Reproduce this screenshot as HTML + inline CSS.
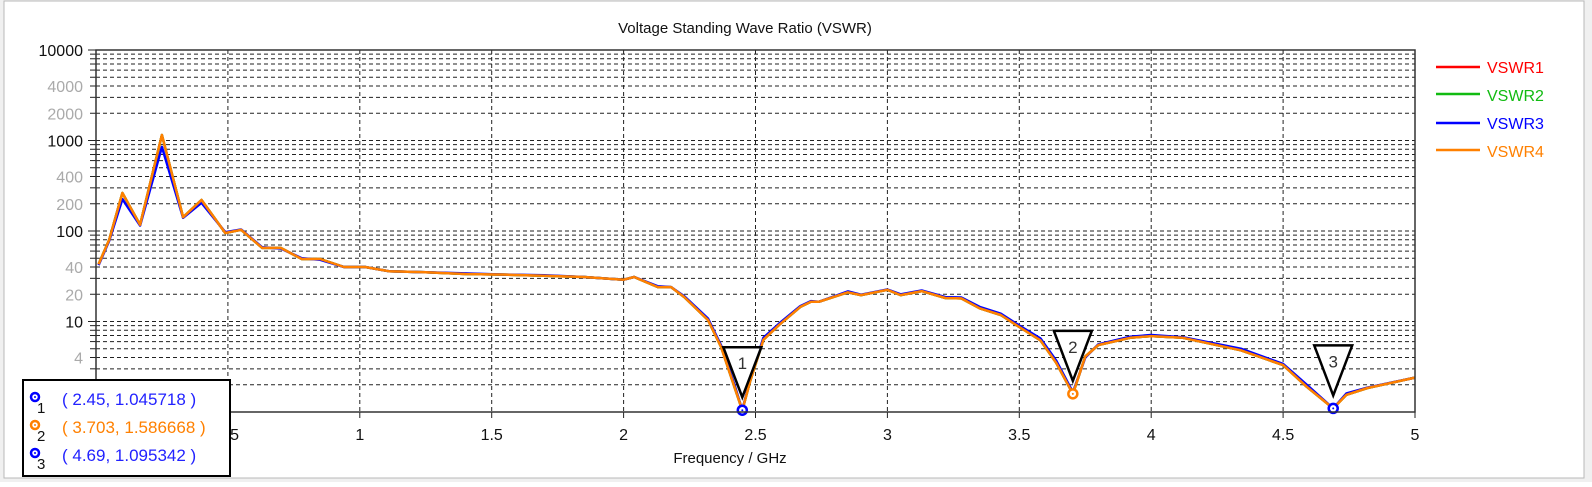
<!DOCTYPE html>
<html><head><meta charset="utf-8"><style>
html,body{margin:0;padding:0;background:#fff;}
body{width:1592px;height:482px;overflow:hidden;font-family:"Liberation Sans",sans-serif;}
</style></head><body>
<svg id="chart" width="1592" height="482" xmlns="http://www.w3.org/2000/svg" font-family="Liberation Sans, sans-serif">
<rect x="0" y="0" width="1592" height="482" fill="#f0f0f0"/>
<rect x="4" y="1" width="1580" height="477" fill="#fff" stroke="#b8b8b8"/>
<text x="745" y="33" font-size="15" text-anchor="middle" fill="#111">Voltage Standing Wave Ratio (VSWR)</text>
<g id="grid"></g>
<g id="series"></g>
<g id="markers"></g>
<rect x="96" y="50" width="1319" height="362" fill="none" stroke="#333" stroke-width="1.5"/>
<text x="730" y="463" font-size="15" text-anchor="middle" fill="#111">Frequency / GHz</text>
<g>
 <line x1="1436" y1="67" x2="1480" y2="67" stroke="#ff0000" stroke-width="2.5"/>
 <text x="1487" y="73" font-size="16" fill="#ff0000">VSWR1</text>
 <line x1="1436" y1="94" x2="1480" y2="94" stroke="#11bb11" stroke-width="2.5"/>
 <text x="1487" y="101" font-size="16" fill="#11bb11">VSWR2</text>
 <line x1="1436" y1="123" x2="1480" y2="123" stroke="#0000ff" stroke-width="2.5"/>
 <text x="1487" y="129" font-size="16" fill="#0000ff">VSWR3</text>
 <line x1="1436" y1="150" x2="1480" y2="150" stroke="#ff8000" stroke-width="2.5"/>
 <text x="1487" y="157" font-size="16" fill="#ff8000">VSWR4</text>
</g>
<g>
 <rect x="23" y="380" width="207" height="96" fill="#fff" stroke="#000" stroke-width="2"/>
 <circle cx="35" cy="397" r="4" fill="none" stroke="#0000ff" stroke-width="2.5"/><circle cx="35" cy="397" r="1" fill="#0000ff"/>
 <text x="37" y="413" font-size="15" fill="#111">1</text>
 <text x="62" y="405" font-size="17" fill="#2222ff">( 2.45, 1.045718 )</text>
 <circle cx="35" cy="425" r="4" fill="none" stroke="#ff8000" stroke-width="2.5"/><circle cx="35" cy="425" r="1" fill="#ff8000"/>
 <text x="37" y="441" font-size="15" fill="#111">2</text>
 <text x="62" y="433" font-size="17" fill="#ff8000">( 3.703, 1.586668 )</text>
 <circle cx="35" cy="453" r="4" fill="none" stroke="#0000ff" stroke-width="2.5"/><circle cx="35" cy="453" r="1" fill="#0000ff"/>
 <text x="37" y="469" font-size="15" fill="#111">3</text>
 <text x="62" y="461" font-size="17" fill="#2222ff">( 4.69, 1.095342 )</text>
</g>
</svg>
<script>
const freqs = [0.01,0.05,0.10,0.167,0.25,0.33,0.40,0.49,0.55,0.63,0.70,0.78,0.85,0.94,1.02,1.11,1.25,1.4,1.55,1.7,1.85,2.0,2.04,2.13,2.18,2.23,2.32,2.37,2.42,2.45,2.48,2.53,2.59,2.67,2.71,2.74,2.85,2.9,3.0,3.05,3.13,3.22,3.28,3.35,3.43,3.5,3.58,3.64,3.703,3.75,3.8,3.92,4.0,4.12,4.34,4.5,4.59,4.69,4.74,4.82,5.0];
const vswr4 = [43,80,263,117,1150,142,220,95,103,65,65,49,49,40,40,36,35,33.5,33,32,31,29,31,24,24,18.6,10.4,5.2,1.9,1.046,2.2,6.3,9.2,14.5,16.5,16.5,21,19.6,22.4,19.6,21.7,18.2,18,14,11.8,8.7,6.2,3.5,1.587,4.1,5.5,6.6,6.9,6.6,4.8,3.3,1.9,1.095,1.55,1.84,2.4];
const vswr3 = [42,78,225,115,850,140,205,97,104,66,64,50,48,40,40,36,35,34,33,32.5,31,29,31,24.5,24,19,10.8,5.4,2.0,1.046,2.3,6.6,9.5,14.8,16.8,16.5,21.5,19.8,22.6,20,22,18.6,18.4,14.5,12.2,9.0,6.5,3.7,1.65,4.0,5.6,6.8,7.1,6.7,5.0,3.4,2.0,1.095,1.6,1.86,2.4];
const vswr1 = vswr4;
const vswr2 = vswr4;
const yMajor = [1,10,100,1000,10000];
const yMajorLabels = ["","10","100","1000","10000"];
const yMinorLabeled = [2,4,20,40,200,400,2000,4000];
const xTicks = [0.5,1,1.5,2,2.5,3,3.5,4,4.5,5];
const xTickLabels = ["0.5","1","1.5","2","2.5","3","3.5","4","4.5","5"];
const markerF = [2.45,3.703,4.69];
const markerV = [1.045718,1.586668,1.095342];
const markerColors = ["#0000ff","#ff8000","#0000ff"];

const NS="http://www.w3.org/2000/svg";
const X0=96,X1=1415,Y0=412,Y1=50;
function xs(f){return X0+(f-0)/(5-0)*(X1-X0);}
function ys(v){return Y0-(Math.log10(v)-0)/(4-0)*(Y0-Y1);}
function mk(tag,attrs,parent){const e=document.createElementNS(NS,tag);for(const k in attrs)e.setAttribute(k,attrs[k]);parent.appendChild(e);return e;}
const grid=document.getElementById('grid');
for(let d=0;d<4;d++){for(let m=1;m<10;m++){const v=Math.pow(10,d)*m;if(v===1)continue;const y=ys(v);
 const l=mk('line',{x1:X0,x2:X1,y1:y,y2:y,stroke:'#222','stroke-width':1,'stroke-dasharray':'4,3'},grid);
 
 
 mk('line',{x1:X0-6,x2:X0,y1:y,y2:y,stroke:'#222','stroke-width':1},grid);}}
yMajor.forEach((v,i)=>{const y=ys(v);mk('line',{x1:X0-8,x2:X0,y1:y,y2:y,stroke:'#222'},grid);
 const t=mk('text',{x:83,y:y+6,'font-size':16,'text-anchor':'end',fill:'#111'},grid);t.textContent=yMajorLabels[i];
 
 });
yMinorLabeled.forEach(v=>{const y=ys(v);const t=mk('text',{x:83,y:y+6,'font-size':16,'text-anchor':'end',fill:'#aaaaaa'},grid);t.textContent=String(v);
 
 });
xTicks.forEach((f,i)=>{const x=xs(f);
 if(f<5){const l=mk('line',{x1:x,x2:x,y1:Y1,y2:Y0,stroke:'#222','stroke-dasharray':'4,3'},grid);
 
 }
 mk('line',{x1:x,x2:x,y1:Y0,y2:Y0+6,stroke:'#222'},grid);
 const t=mk('text',{x:x,y:440,'font-size':16,'text-anchor':'middle',fill:'#111'},grid);t.textContent=xTickLabels[i];
 
 });
const sg=document.getElementById('series');
[[vswr1,'#ff0000','vswr1-line'],[vswr2,'#11bb11','vswr2-line'],[vswr3,'#0000ff','vswr3-line'],[vswr4,'#ff8000','vswr4-line']].forEach(s=>{
 const d=freqs.map((f,i)=>(i?'L':'M')+xs(f).toFixed(1)+','+ys(s[0][i]).toFixed(1)).join(' ');
 const p=mk('path',{d:d,fill:'none',stroke:s[1],'stroke-width':2.5,'stroke-linejoin':'round'},sg);
 
 });
const mg=document.getElementById('markers');
markerF.forEach((f,i)=>{const x=xs(f),y=ys(markerV[i]);const tip=y-13;
 const g=mk('g',{},mg);
 
 
 mk('path',{d:`M${x-19},${tip-50} L${x+19},${tip-50} L${x},${tip} Z`,fill:'#fff',stroke:'#000','stroke-width':2.5},g);
 const t=mk('text',{x:x,y:tip-28,'font-size':17,'text-anchor':'middle',fill:'#333'},g);t.textContent=String(i+1);
 mk('circle',{cx:x,cy:y,r:4.5,fill:'#fff',stroke:markerColors[i],'stroke-width':2.5},g);
 mk('circle',{cx:x,cy:y,r:1,fill:markerColors[i]},g);});
</script>
</body></html>
